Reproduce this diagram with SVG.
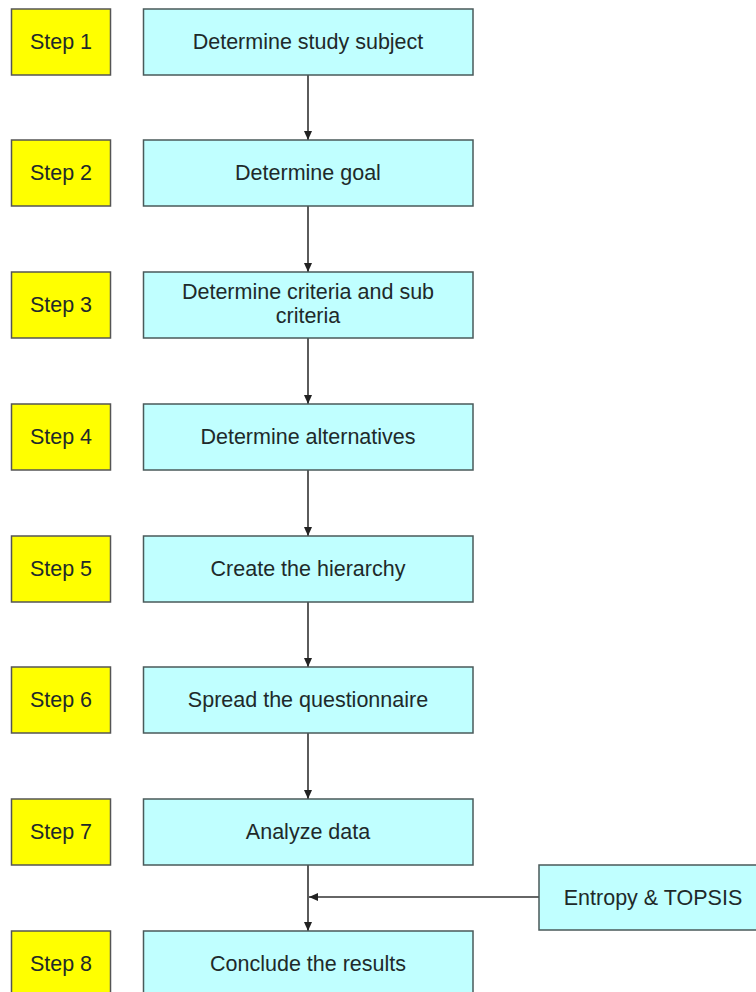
<svg xmlns="http://www.w3.org/2000/svg" width="756" height="992" viewBox="0 0 756 992">
<style>
.step{fill:#ffff00;stroke:#555555;stroke-width:1.5}
.proc{fill:#c0ffff;stroke:#4a5a5a;stroke-width:1.5}
text{font-family:"Liberation Sans",Arial,sans-serif;font-size:21.5px;fill:#1e2a2a;text-anchor:middle}
.conn{stroke:#333333;stroke-width:1.6;fill:none}
</style>
<defs>
<marker id="ah" viewBox="0 0 10 10" refX="10" refY="5" markerWidth="9" markerHeight="8" orient="auto" markerUnits="userSpaceOnUse" preserveAspectRatio="none">
<path d="M0,0 L10,5 L0,10 z" fill="#222222"/>
</marker>
</defs>
<rect width="756" height="992" fill="#ffffff"/>
<g id="connectors">
<line class="conn" x1="308" y1="75" x2="308" y2="140" marker-end="url(#ah)"/>
<line class="conn" x1="308" y1="206" x2="308" y2="272" marker-end="url(#ah)"/>
<line class="conn" x1="308" y1="338" x2="308" y2="404" marker-end="url(#ah)"/>
<line class="conn" x1="308" y1="470" x2="308" y2="536" marker-end="url(#ah)"/>
<line class="conn" x1="308" y1="602" x2="308" y2="667" marker-end="url(#ah)"/>
<line class="conn" x1="308" y1="733" x2="308" y2="799" marker-end="url(#ah)"/>
<line class="conn" x1="308" y1="865" x2="308" y2="931" marker-end="url(#ah)"/>
<line class="conn" x1="539" y1="897" x2="309" y2="897" marker-end="url(#ah)"/>
</g>
<g id="step1"><rect class="step" x="11.5" y="9" width="99" height="66"/><text x="61" y="49">Step 1</text></g>
<g id="node1"><rect class="proc" x="143.5" y="9" width="329.5" height="66"/><text x="308" y="49">Determine study subject</text></g>
<g id="step2"><rect class="step" x="11.5" y="140" width="99" height="66"/><text x="61" y="180">Step 2</text></g>
<g id="node2"><rect class="proc" x="143.5" y="140" width="329.5" height="66"/><text x="308" y="180">Determine goal</text></g>
<g id="step3"><rect class="step" x="11.5" y="272" width="99" height="66"/><text x="61" y="312">Step 3</text></g>
<g id="node3"><rect class="proc" x="143.5" y="272" width="329.5" height="66"/><text x="308" y="299">Determine criteria and sub</text><text x="308" y="323">criteria</text></g>
<g id="step4"><rect class="step" x="11.5" y="404" width="99" height="66"/><text x="61" y="444">Step 4</text></g>
<g id="node4"><rect class="proc" x="143.5" y="404" width="329.5" height="66"/><text x="308" y="444">Determine alternatives</text></g>
<g id="step5"><rect class="step" x="11.5" y="536" width="99" height="66"/><text x="61" y="576">Step 5</text></g>
<g id="node5"><rect class="proc" x="143.5" y="536" width="329.5" height="66"/><text x="308" y="576">Create the hierarchy</text></g>
<g id="step6"><rect class="step" x="11.5" y="667" width="99" height="66"/><text x="61" y="707">Step 6</text></g>
<g id="node6"><rect class="proc" x="143.5" y="667" width="329.5" height="66"/><text x="308" y="707">Spread the questionnaire</text></g>
<g id="step7"><rect class="step" x="11.5" y="799" width="99" height="66"/><text x="61" y="839">Step 7</text></g>
<g id="node7"><rect class="proc" x="143.5" y="799" width="329.5" height="66"/><text x="308" y="839">Analyze data</text></g>
<g id="step8"><rect class="step" x="11.5" y="931" width="99" height="66"/><text x="61" y="971">Step 8</text></g>
<g id="node8"><rect class="proc" x="143.5" y="931" width="329.5" height="66"/><text x="308" y="971">Conclude the results</text></g>
<g id="entropy"><rect class="proc" x="539" y="865" width="230" height="65"/><text x="653" y="905">Entropy &amp; TOPSIS</text></g>
</svg>
